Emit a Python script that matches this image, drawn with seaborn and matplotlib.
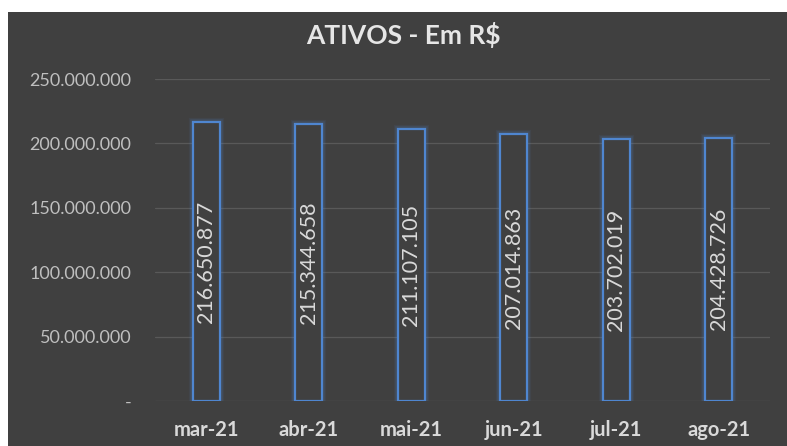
import matplotlib
matplotlib.use('Agg')
import matplotlib.pyplot as plt
import matplotlib.patches as mpatches
import seaborn as sns
import pandas as pd

months = ['mar-21', 'abr-21', 'mai-21', 'jun-21', 'jul-21', 'ago-21']
ativos = [216650877, 215344658, 211107105, 207014863, 203702019, 204428726]
y_ticks = [0, 50000000, 100000000, 150000000, 200000000, 250000000]

bg = '#404040'
edge = '#4f86d0'
txt = '#d9d9d9'

def fmt_br(v):
    # brazilian thousands separator
    return f'{v:,.0f}'.replace(',', '.')

sns.set_style('dark')
plt.rcParams['font.family'] = ['Lato', 'DejaVu Sans']

df = pd.DataFrame({'Mes': months, 'Ativos': ativos})

fig = plt.figure(figsize=(7.87, 4.46), dpi=100)
fig.patch.set_facecolor('white')
# dark chart area, with a small white margin on top/left like the screenshot
fig.patches.append(mpatches.Rectangle((8 / 787, 0), 1, 1 - 12 / 446, transform=fig.transFigure,
                                      facecolor=bg, edgecolor='none', zorder=-10))

ax = fig.add_axes([155 / 787, 1 - 401 / 446, 615 / 787, 322 / 446])
ax.set_facecolor(bg)

sns.barplot(data=df, x='Mes', y='Ativos', ax=ax, color=bg, width=0.26,
            edgecolor=edge, linewidth=1.6, zorder=3)

# soft glow around the bars
for p in list(ax.patches):
    for lw, a in [(6, 0.08), (4, 0.15)]:
        g = mpatches.Rectangle(p.get_xy(), p.get_width(), p.get_height(), fill=False,
                               edgecolor=edge, linewidth=lw, alpha=a, zorder=2)
        ax.add_patch(g)

for i, v in enumerate(ativos):
    ax.text(i, v / 2, fmt_br(v), rotation=90, ha='center', va='center',
            color=txt, fontsize=15.5, zorder=4)

ax.set_ylim(0, 250000000)
ax.set_yticks(y_ticks)
ax.set_yticklabels(['-' if t == 0 else fmt_br(t) for t in y_ticks], color='#bfbfbf', fontsize=13)
ax.set_xticks(range(len(months)))
ax.set_xticklabels(months, color=txt, fontsize=14.5, fontweight='bold')
ax.tick_params(axis='both', length=0)
ax.tick_params(axis='x', pad=14)
ax.tick_params(axis='y', pad=17)
ax.grid(axis='y', color='#595959', linewidth=0.9)
ax.grid(axis='x', visible=False)
ax.set_xlabel('')
ax.set_ylabel('')
for s in ax.spines.values():
    s.set_visible(False)

fig.text(403 / 787, 1 - 35 / 446, 'ATIVOS - Em R\\$', ha='center', va='center',
         color='#e6e6e6', fontsize=19, fontweight='bold')

fig.savefig('out.png', dpi=100, facecolor=fig.get_facecolor())
